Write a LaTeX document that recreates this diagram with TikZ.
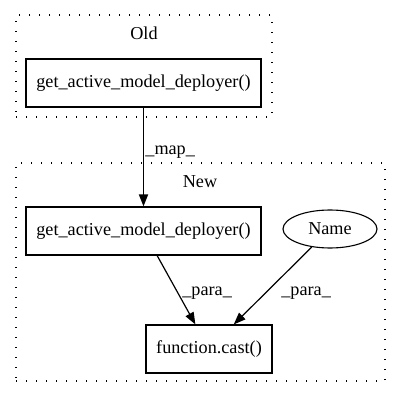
\documentclass[tikz,border=0pt]{standalone}
\usepackage{fontspec}
\setmainfont{Liberation Serif}
\usetikzlibrary{arrows.meta, shapes.geometric}

\begin{document}
\begin{tikzpicture}[
    x=1pt, y=1pt,
    font=\fontsize{18.2}{22}\selectfont,
    cluster/.style={rectangle, draw, line width=1.3pt, dash pattern=on 1.3pt off 8.7pt, inner sep=0pt},
    fnbox/.style={rectangle, draw, line width=1.1pt, minimum height=48pt, inner sep=0pt},
    leaf/.style={ellipse, draw, line width=1.1pt, minimum width=94pt, minimum height=38pt, inner sep=0pt},
    arrow/.style={-{Triangle[length=12pt, width=9pt]}, line width=1.2pt},
    edgelabel/.style={inner sep=0pt, anchor=west}
]
\useasboundingbox (0,0) rectangle (400,400);
% clusters
\node[cluster, minimum width=256pt, minimum height=102pt] (oldcl) at (144,334) {};
\node[cluster, minimum width=369pt, minimum height=218pt] (newcl) at (200.5,128) {};
\node[inner sep=0pt] (oldlbl) at (144,367) {Old};
\node[inner sep=0pt] (newlbl) at (200,218) {New};
% nodes
\node[fnbox, minimum width=235pt] (oldfn) at (143.5,317) {get\_active\_model\_deployer()};
\node[fnbox, minimum width=235pt] (newfn) at (143.5,169) {get\_active\_model\_deployer()};
\node[leaf] (name) at (330,171) {Name};
\node[fnbox, minimum width=126pt] (cast) at (209,51) {function.cast()};
% edges
\draw[arrow, line width=1.8pt] (oldfn) -- node[edgelabel, pos=0.45, xshift=1pt] {\_map\_} (newfn);
\draw[arrow] (newfn) -- node[edgelabel, pos=0.54, xshift=4pt] {\_para\_} (cast);
\draw[arrow] (name) -- node[edgelabel, pos=0.59, xshift=15pt] {\_para\_} (cast);
\end{tikzpicture}
\end{document}
